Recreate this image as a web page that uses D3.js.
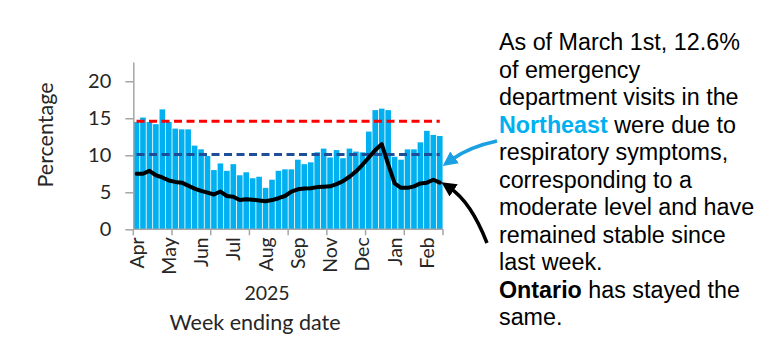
<!DOCTYPE html>
<html><head><meta charset="utf-8">
<script src="https://cdn.jsdelivr.net/npm/d3@7"></script>
<style>
html,body{margin:0;padding:0;background:#fff;}
svg{display:block;}
</style>
</head><body>
<svg id="chart" width="780" height="358"></svg>
<script>
// ---- data ----
const weeks = ["2025-04-06","2025-04-13","2025-04-20","2025-04-27","2025-05-04","2025-05-11","2025-05-18","2025-05-25",
"2025-06-01","2025-06-08","2025-06-15","2025-06-22","2025-06-29","2025-07-06","2025-07-13","2025-07-20","2025-07-27",
"2025-08-03","2025-08-10","2025-08-17","2025-08-24","2025-08-31","2025-09-07","2025-09-14","2025-09-21","2025-09-28",
"2025-10-05","2025-10-12","2025-10-19","2025-10-26","2025-11-02","2025-11-09","2025-11-16","2025-11-23","2025-11-30",
"2025-12-07","2025-12-14","2025-12-21","2025-12-28","2026-01-04","2026-01-11","2026-01-18","2026-01-25",
"2026-02-01","2026-02-08","2026-02-15","2026-02-22","2026-03-01"];
const northeast = [14.5,15.1,14.5,14.2,16.2,14.5,13.6,13.5,13.5,11.3,10.8,9.9,8.0,8.9,7.9,8.8,7.3,7.7,6.9,7.1,5.6,6.7,7.9,8.1,
8.1,9.4,8.8,9.05,10.4,10.9,9.7,10.7,9.6,10.9,10.5,10.4,13.2,16.1,16.3,16.1,9.8,9.4,10.8,10.8,11.75,13.3,12.75,12.6];
const ontario = [7.5,7.5,7.9,7.3,7.0,6.6,6.4,6.3,5.9,5.5,5.2,4.95,4.7,5.1,4.5,4.4,3.95,4.05,4.0,3.9,3.8,3.95,4.2,4.5,
5.1,5.4,5.5,5.55,5.7,5.75,5.8,6.1,6.5,7.1,7.8,8.7,9.7,10.7,11.5,8.8,6.2,5.6,5.6,5.8,6.2,6.3,6.7,6.3];
const highThreshold = 14.6;
const moderateThreshold = 10.1;
const yTicks = [0,5,10,15,20];
const labelEvery = 5;
const tickEvery = 6;
const annotationLines = [
  [["As of March 1st, 12.6%", "n"]],
  [["of emergency", "n"]],
  [["department visits in the", "n"]],
  [["Northeast", "b"], [" were due to", "n"]],
  [["respiratory symptoms,", "n"]],
  [["corresponding to a", "n"]],
  [["moderate level and have", "n"]],
  [["remained stable since", "n"]],
  [["last week.", "n"]],
  [["Ontario", "k"], [" has stayed the", "n"]],
  [["same.", "n"]]
];

// ---- layout ----
const svg = d3.select("#chart");
const left = 133.3, right = 443, bottom = 229.3;
const x = d3.scaleBand().domain(d3.range(weeks.length)).range([left, right]).paddingInner(0.13).paddingOuter(0.065);
const y = d3.scaleLinear().domain([0, 22.6]).range([bottom, 62]);
const parse = d3.timeParse("%Y-%m-%d");
const fmt = d3.timeFormat("%b");
const axisFont = "Lato, 'Open Sans', sans-serif";
const textColor = "#262626";

// bars
svg.append("g").selectAll("rect").data(northeast).join("rect")
  .attr("x", (d,i) => x(i)).attr("width", x.bandwidth())
  .attr("y", d => y(d)).attr("height", d => y(0) - y(d))
  .attr("fill", "#00B0F0");

// threshold lines
const cx = i => x(i) + x.bandwidth()/2;
const thr = (v, color) => svg.append("line")
  .attr("x1", cx(0)).attr("x2", cx(weeks.length-1))
  .attr("y1", y(v)).attr("y2", y(v))
  .attr("stroke", color).attr("stroke-width", 3).attr("stroke-dasharray", "8,4.5");
thr(highThreshold, "#FF0000");
thr(moderateThreshold, "#1F4E99");

// Ontario line
svg.append("path").datum(ontario)
  .attr("d", d3.line().x((d,i) => cx(i)).y(d => y(d)))
  .attr("fill", "none").attr("stroke", "#000").attr("stroke-width", 4)
  .attr("stroke-linejoin", "round").attr("stroke-linecap", "round");

// y axis
const yAxis = svg.append("g").attr("transform", `translate(${left},0)`)
  .call(d3.axisLeft(y).tickValues(yTicks).tickSize(8).tickSizeOuter(0).tickPadding(14));
yAxis.select(".domain").attr("stroke", "#a6a6a6").attr("stroke-width", 1.5);
yAxis.selectAll(".tick line").attr("stroke", "#a6a6a6").attr("stroke-width", 1.5);
yAxis.selectAll(".tick text").attr("font-family", axisFont).attr("font-size", 20).attr("fill", textColor);

// x axis baseline + ticks
svg.append("line").attr("x1", left).attr("x2", right).attr("y1", bottom).attr("y2", bottom)
  .attr("stroke", "#a6a6a6").attr("stroke-width", 1.5);
const tickIdx = d3.range(0, weeks.length + 1, tickEvery);
svg.append("g").selectAll("line").data(tickIdx).join("line")
  .attr("x1", i => i < weeks.length ? x(i) - x.step()*x.paddingInner()/2 : right)
  .attr("x2", i => i < weeks.length ? x(i) - x.step()*x.paddingInner()/2 : right)
  .attr("y1", bottom).attr("y2", bottom + 6)
  .attr("stroke", "#a6a6a6").attr("stroke-width", 1.5);
const labelIdx = d3.range(0, weeks.length, labelEvery);
svg.append("g").selectAll("text").data(labelIdx).join("text")
  .attr("transform", i => `translate(${cx(i)},${bottom + 8}) rotate(-90)`)
  .attr("text-anchor", "end").attr("dy", "0.36em")
  .attr("font-family", axisFont).attr("font-size", 19.5).attr("fill", textColor)
  .text(i => fmt(parse(weeks[i])));

// axis titles
svg.append("text").attr("x", 267).attr("y", 300).attr("text-anchor", "middle")
  .attr("font-family", axisFont).attr("font-size", 19.5).attr("fill", textColor).text("2025");
svg.append("text").attr("x", 255).attr("y", 330).attr("text-anchor", "middle")
  .attr("font-family", axisFont).attr("font-size", 21.5).attr("fill", textColor).text("Week ending date");
svg.append("text").attr("transform", "translate(53,135) rotate(-90)").attr("text-anchor", "middle")
  .attr("font-family", axisFont).attr("font-size", 21.5).attr("fill", textColor).text("Percentage");

// annotation text
const ann = svg.append("text").attr("font-family", "'Liberation Sans', Arial, sans-serif").attr("font-size", 23.3).attr("fill", "#000");
annotationLines.forEach((line, li) => {
  line.forEach(([t, s], si) => {
    const ts = ann.append("tspan").text(t);
    if (si === 0) ts.attr("x", 499).attr("y", 50 + li * 27.5);
    if (s === "b") ts.attr("font-weight", "bold").attr("fill", "#00B0F0");
    if (s === "k") ts.attr("font-weight", "bold");
  });
});

// arrows
const defs = svg.append("defs");
function marker(id, color) {
  defs.append("marker").attr("id", id).attr("viewBox", "0 0 10 10")
    .attr("refX", 3).attr("refY", 5).attr("markerWidth", 4.2).attr("markerHeight", 4.2)
    .attr("orient", "auto-start-reverse").attr("markerUnits", "strokeWidth")
    .append("path").attr("d", "M0,0 L10,5 L0,10 Z").attr("fill", color);
}
marker("mBlue", "#1BA1E2");
marker("mBlack", "#000");
svg.append("path").attr("d", "M497,141 C478,145 462,152 451,160")
  .attr("fill", "none").attr("stroke", "#1BA1E2").attr("stroke-width", 3.5)
  .attr("marker-end", "url(#mBlue)");
svg.append("path").attr("d", "M487,243 C478,220 465,198 450,188")
  .attr("fill", "none").attr("stroke", "#000").attr("stroke-width", 3.5)
  .attr("marker-end", "url(#mBlack)");
</script>
</body></html>
